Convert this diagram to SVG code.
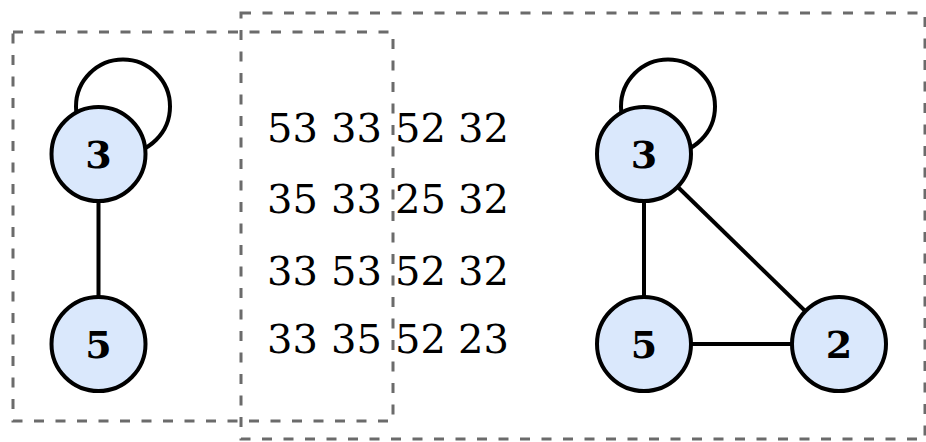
<svg xmlns="http://www.w3.org/2000/svg" width="926" height="442" viewBox="0 0 926 442">
<style>
.box{fill:none;stroke:#6b6b6b;stroke-width:3;stroke-dasharray:10 11.5}
.edge{fill:none;stroke:#000;stroke-width:4}
.node circle{fill:#dae8fc;stroke:#000;stroke-width:4}
.node text{font-family:"DejaVu Serif",serif;font-size:38px;font-weight:bold;text-anchor:middle;fill:#000}
.num{font-family:"DejaVu Serif",serif;font-size:40px;text-anchor:middle;fill:#000}
</style>
<rect class="box" x="241" y="13" width="684" height="426"/>
<rect class="box" x="13" y="32" width="380" height="389"/>
<g id="connectors">
<circle class="edge" cx="123" cy="106.5" r="47"/>
<line class="edge" x1="98.5" y1="154" x2="98.5" y2="344"/>
<circle class="edge" cx="668" cy="106.5" r="47"/>
<line class="edge" x1="644" y1="154" x2="644" y2="344"/>
<line class="edge" x1="644" y1="344" x2="839" y2="344"/>
<line class="edge" x1="644" y1="154" x2="839" y2="344"/>
</g>
<g id="L3" class="node"><circle cx="98.5" cy="154" r="47"/><text x="98.5" y="168">3</text></g>
<g id="L5" class="node"><circle cx="98.5" cy="344" r="47"/><text x="98.5" y="358">5</text></g>
<g id="R3" class="node"><circle cx="644" cy="154" r="47"/><text x="644" y="168">3</text></g>
<g id="R5" class="node"><circle cx="644" cy="344" r="47"/><text x="644" y="358">5</text></g>
<g id="R2" class="node"><circle cx="839" cy="344" r="47"/><text x="839" y="358">2</text></g>
<g id="matrix" class="num">
<text x="292.5" y="142">53</text>
<text x="356.5" y="142">33</text>
<text x="420.5" y="142">52</text>
<text x="483.5" y="142">32</text>
<text x="292.5" y="213">35</text>
<text x="356.5" y="213">33</text>
<text x="420.5" y="213">25</text>
<text x="483.5" y="213">32</text>
<text x="292.5" y="285">33</text>
<text x="356.5" y="285">53</text>
<text x="420.5" y="285">52</text>
<text x="483.5" y="285">32</text>
<text x="292.5" y="353">33</text>
<text x="356.5" y="353">35</text>
<text x="420.5" y="353">52</text>
<text x="483.5" y="353">23</text>
</g>
</svg>
